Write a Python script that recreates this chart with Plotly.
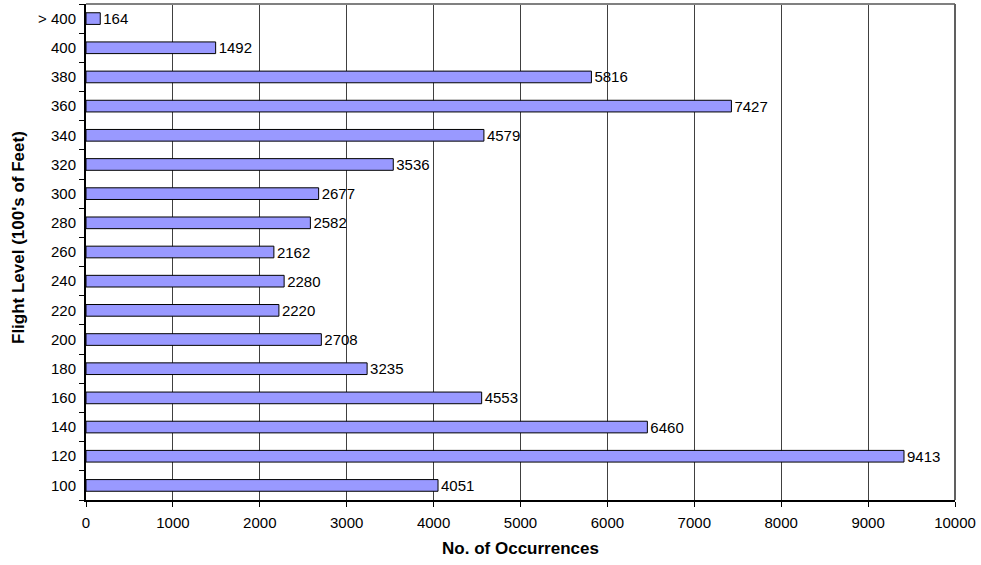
import plotly.graph_objects as go

# Flight level bands (100's of feet) and number of occurrences in each band
levels = ["100", "120", "140", "160", "180", "200", "220", "240", "260",
          "280", "300", "320", "340", "360", "380", "400", "> 400"]
occurrences = [4051, 9413, 6460, 4553, 3235, 2708, 2220, 2280, 2162,
               2582, 2677, 3536, 4579, 7427, 5816, 1492, 164]
x_ticks = [0, 1000, 2000, 3000, 4000, 5000, 6000, 7000, 8000, 9000, 10000]

FONT = "Arial, Liberation Sans, sans-serif"
TICK_SIZE = 15
TITLE_SIZE = 17

fig = go.Figure(
    go.Bar(
        x=occurrences,
        y=levels,
        orientation="h",
        marker=dict(color="#9999FF", line=dict(color="#000000", width=1)),
        text=[str(v) for v in occurrences],
        textposition="outside",
        constraintext="none",
        textfont=dict(family=FONT, size=TICK_SIZE, color="#000000"),
        cliponaxis=False,
        width=0.4,
    )
)

fig.update_layout(
    width=981,
    height=565,
    margin=dict(l=86, r=26, t=4, b=65),
    paper_bgcolor="white",
    plot_bgcolor="white",
    showlegend=False,
    font=dict(family=FONT, size=TICK_SIZE, color="#000000"),
    xaxis=dict(
        range=[0, 10000],
        tickvals=x_ticks,
        ticktext=[str(t) for t in x_ticks],
        showgrid=True,
        gridcolor="#404040",
        gridwidth=1,
        zeroline=False,
        showline=True,
        linecolor="#000000",
        linewidth=2,
        ticks="outside",
        ticklen=5,
        tickcolor="#000000",
        ticklabelstandoff=3,
        tickfont=dict(family=FONT, size=TICK_SIZE),
        title=dict(text="<b>No. of Occurrences</b>", font=dict(family=FONT, size=TITLE_SIZE), standoff=12),
    ),
    yaxis=dict(
        type="category",
        categoryorder="array",
        categoryarray=levels,
        tickson="boundaries",
        showgrid=False,
        showline=True,
        linecolor="#000000",
        linewidth=2,
        ticks="outside",
        ticklen=5,
        tickcolor="#000000",
        ticklabelstandoff=5,
        tickfont=dict(family=FONT, size=TICK_SIZE),
    ),
)

# Vertical axis title, sitting slightly above the middle of the plot area
fig.add_annotation(
    text="<b>Flight Level (100's of Feet)</b>",
    textangle=-90,
    xref="paper", yref="paper",
    x=-86 / 869 + 18 / 869, y=(500 - 238) / 496,
    xanchor="center", yanchor="middle",
    showarrow=False,
    font=dict(family=FONT, size=TITLE_SIZE, color="#000000"),
)

# Grey frame along the top and right edges of the plot area
fig.add_shape(type="line", xref="paper", yref="paper", x0=0, x1=1, y0=1, y1=1,
              line=dict(color="#808080", width=2))
fig.add_shape(type="line", xref="paper", yref="paper", x0=1, x1=1, y0=0, y1=1,
              line=dict(color="#606060", width=2))

fig.write_html("out.html")
